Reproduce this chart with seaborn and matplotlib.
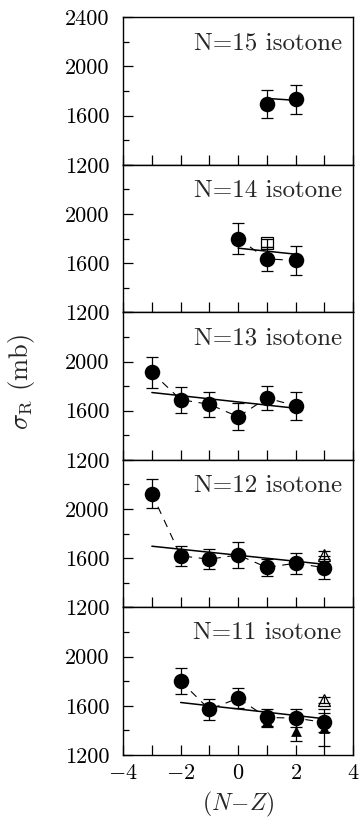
import numpy as np
import pandas as pd
import matplotlib
matplotlib.use('agg')
import matplotlib.pyplot as plt
from matplotlib.ticker import MultipleLocator, FuncFormatter
import seaborn as sns

# values (cross sections in mb vs N-Z)
panel_names = ["N=15 isotone", "N=14 isotone", "N=13 isotone", "N=12 isotone", "N=11 isotone"]

n15_x = [1, 2]
n15_y = [1695, 1733]
n15_err = [112, 119]
n15_fit_x = [1, 2]
n15_fit_y = [1740, 1724]

n14_x = [0, 1, 2]
n14_y = [1800, 1635, 1622]
n14_err = [128, 98, 117]
n14_sq_x = [1]
n14_sq_y = [1763]
n14_sq_err = [35]
n14_fit_x = [0, 2]
n14_fit_y = [1722, 1673]

n13_x = [-3, -2, -1, 0, 1, 2]
n13_y = [1912, 1690, 1652, 1551, 1703, 1640]
n13_err = [128, 105, 100, 110, 97, 115]
n13_fit_x = [-3, 2]
n13_fit_y = [1748, 1620]

n12_x = [-3, -2, -1, 0, 1, 2, 3]
n12_y = [2125, 1620, 1592, 1627, 1525, 1560, 1523]
n12_err = [120, 80, 80, 105, 70, 85, 95]
n12_otri_x = [3]
n12_otri_y = [1627]
n12_otri_err = [30]
n12_fit_x = [-3, 3]
n12_fit_y = [1698, 1551]

n11_x = [-2, -1, 0, 1, 2, 3]
n11_y = [1800, 1570, 1662, 1505, 1500, 1465]
n11_err = [107, 82, 80, 70, 75, 80]
n11_ftri_x = [1, 2, 3]
n11_ftri_y = [1480, 1395, 1420]
n11_ftri_err = [50, 80, 150]
n11_otri_x = [3]
n11_otri_y = [1646]
n11_otri_err = [25]
n11_fit_x = [-2, 3]
n11_fit_y = [1627, 1495]

sns.set_style("ticks")
plt.rcParams['font.family'] = ['cmr10', 'DejaVu Serif']
plt.rcParams['mathtext.fontset'] = 'cm'
plt.rcParams['axes.formatter.use_mathtext'] = True
plt.rcParams['axes.unicode_minus'] = True


def draw_errs(ax, x, y, err, lw=0.9):
    ax.errorbar(x, y, yerr=err, fmt='none', ecolor='black', elinewidth=lw, capsize=4, capthick=lw, zorder=2)


def draw_circles(ax, x, y, err, dashed=True):
    df = pd.DataFrame({'x': x, 'y': y})
    draw_errs(ax, x, y, err)
    if dashed:
        sns.lineplot(data=df, x='x', y='y', ax=ax, color='black', lw=0.8, sort=False,
                     estimator=None, dashes=False, zorder=1)
        ax.lines[-1].set_dashes([7, 6])
    sns.scatterplot(data=df, x='x', y='y', ax=ax, color='black', s=125, marker='o',
                    edgecolor='black', linewidth=0, zorder=4)


def draw_fit(ax, x, y):
    df = pd.DataFrame({'x': x, 'y': y})
    sns.lineplot(data=df, x='x', y='y', ax=ax, color='black', lw=1.1, sort=False,
                 estimator=None, zorder=3)


def draw_open(ax, x, y, err, marker):
    draw_errs(ax, x, y, err)
    ax.plot(x, y, linestyle='none', marker=marker, markersize=8, markerfacecolor='none',
            markeredgecolor='black', markeredgewidth=0.9, zorder=5)


def draw_filled(ax, x, y, err, marker):
    draw_errs(ax, x, y, err)
    df = pd.DataFrame({'x': x, 'y': y})
    sns.scatterplot(data=df, x='x', y='y', ax=ax, color='black', s=60, marker=marker,
                    linewidth=0, zorder=3)


fig, axes = plt.subplots(5, 1, sharex=True, figsize=(3.6, 8.21), dpi=100)
fig.subplots_adjust(left=0.342, right=0.981, top=0.979, bottom=0.0804, hspace=0)

# N=15
ax = axes[0]
draw_fit(ax, n15_fit_x, n15_fit_y)
draw_circles(ax, n15_x, n15_y, n15_err, dashed=False)

# N=14
ax = axes[1]
draw_open(ax, n14_sq_x, n14_sq_y, n14_sq_err, 's')
draw_fit(ax, n14_fit_x, n14_fit_y)
draw_circles(ax, n14_x, n14_y, n14_err)

# N=13
ax = axes[2]
draw_fit(ax, n13_fit_x, n13_fit_y)
draw_circles(ax, n13_x, n13_y, n13_err)

# N=12
ax = axes[3]
draw_open(ax, n12_otri_x, n12_otri_y, n12_otri_err, '^')
draw_fit(ax, n12_fit_x, n12_fit_y)
draw_circles(ax, n12_x, n12_y, n12_err)

# N=11
ax = axes[4]
draw_open(ax, n11_otri_x, n11_otri_y, n11_otri_err, '^')
draw_filled(ax, n11_ftri_x, n11_ftri_y, n11_ftri_err, '^')
draw_fit(ax, n11_fit_x, n11_fit_y)
draw_circles(ax, n11_x, n11_y, n11_err)

for i, ax in enumerate(axes):
    ax.set_xlim(-4, 4)
    ax.set_ylim(1200, 2400)
    ax.set_xlabel('')
    ax.set_ylabel('')
    ax.xaxis.set_major_locator(MultipleLocator(2))
    ax.xaxis.set_minor_locator(MultipleLocator(1))
    ax.yaxis.set_major_locator(MultipleLocator(400))
    ax.yaxis.set_minor_locator(MultipleLocator(200))
    if i > 0:
        ax.yaxis.set_major_formatter(FuncFormatter(lambda v, p: '' if v >= 2400 else f'{v:.0f}'))
    else:
        ax.yaxis.set_major_formatter(FuncFormatter(lambda v, p: f'{v:.0f}'))
    ax.tick_params(axis='both', which='both', direction='in', width=0.9, colors='black')
    ax.tick_params(axis='x', which='both', length=7)
    ax.tick_params(axis='y', which='major', length=7, pad=10, labelsize=16)
    ax.tick_params(axis='y', which='minor', length=4)
    ax.tick_params(axis='x', which='major', pad=6, labelsize=16)
    for sp in ax.spines.values():
        sp.set_linewidth(1.0)
        sp.set_color('black')
    ax.text(0.95, 0.825, panel_names[i], transform=ax.transAxes, ha='right', va='center',
            fontsize=18)

fig.text(0.5 * (0.342 + 0.981), 0.003, r'$(N\!-\!Z)$', ha='center', va='bottom', fontsize=17)
fig.text(0.06, 0.535, r'$\sigma_{\rm R}$ (mb)', rotation=90, ha='center', va='center', fontsize=19)

fig.savefig('out.png', dpi=100)
